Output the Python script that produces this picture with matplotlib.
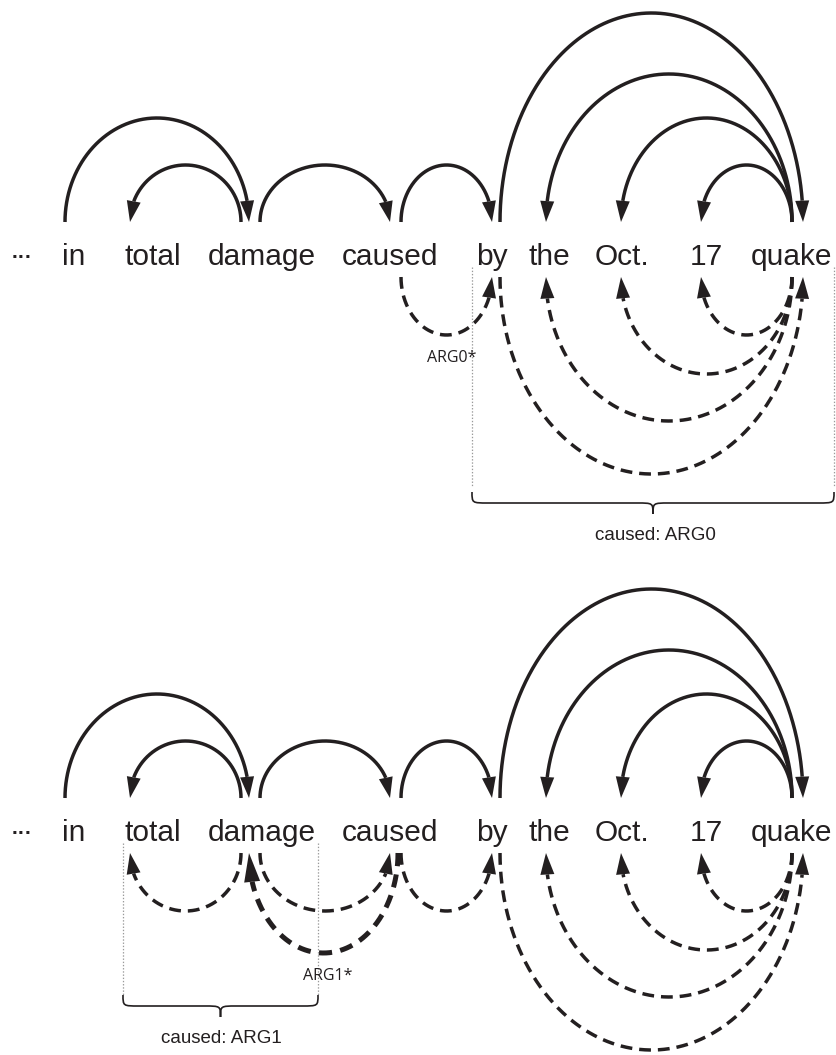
import numpy as np
import matplotlib.pyplot as plt
from matplotlib.patches import Polygon, PathPatch
from matplotlib.path import Path

plt.rcParams['lines.scale_dashes'] = False

words = ['···', 'in', 'total', 'damage', 'caused', 'by', 'the', 'Oct.', '17', 'quake']

# dependency tree drawn above the words (same in both panels)
dep_from = ['in', 'damage', 'damage', 'caused', 'by', 'quake', 'quake', 'quake']
dep_to = ['damage', 'total', 'caused', 'by', 'quake', 'the', 'Oct.', '17']
dep_level = [2, 1, 1, 1, 4, 3, 2, 1]

# paths drawn below the words
arg0_from = ['caused', 'by', 'quake', 'quake', 'quake']
arg0_to = ['by', 'quake', 'the', 'Oct.', '17']
arg0_level = [1, 4, 3, 2, 1]
arg0_bold = [False, False, False, False, False]

arg1_from = ['damage', 'damage', 'caused', 'caused', 'by', 'quake', 'quake', 'quake']
arg1_to = ['total', 'caused', 'damage', 'by', 'quake', 'the', 'Oct.', '17']
arg1_level = [1, 1, 2, 1, 4, 3, 2, 1]
arg1_bold = [False, False, True, False, False, False, False, False]

star_labels = ['ARG0*', 'ARG1*']
star_arc = [0, 2]
captions = ['caused: ARG0', 'caused: ARG1']

# ---- layout (pixels) ----
word_x = [22, 74, 153, 262, 390, 492, 549, 622, 706, 791]
in_x = [0, 65, 130, 249, 390, 492, 546, 621, 701, 803]
out_l_x = [0, 65, 130, 241, 398, 492, 546, 621, 701, 792]
out_r_x = [0, 65, 130, 260, 401, 500, 546, 621, 701, 792]
up_height = {1: 57, 2: 104, 3: 148, 4: 209}
down_depth = {1: 58, 2: 97, 3: 144, 4: 197}
panel_dy = [0, 576]
span_x = [(472, 834), (123, 318)]
span_bottom = [487, 419]      # relative to panel
brace_top = [492, 419]
brace_h = 22
caption_x = [655, 221]

INK = '#231f20'
idx = {w: i for i, w in enumerate(words)}

fig = plt.figure(figsize=(8.36, 10.55), dpi=100)
ax = fig.add_axes([0, 0, 1, 1])
ax.set_xlim(0, 836)
ax.set_ylim(1055, 0)
ax.axis('off')


def arc(x0, x1, ybase, depth, sign, lw=2.5, dashes=None, hl=21, hw=14):
    t = np.linspace(0, np.pi, 400)
    xs = x0 + (x1 - x0) * (1 - np.cos(t)) / 2
    ys = ybase + sign * depth * np.sin(t)
    seg = np.hypot(np.diff(xs), np.diff(ys))
    dist = np.concatenate([np.cumsum(seg[::-1])[::-1], [0]])
    k = np.argmin(np.abs(dist - hl))
    if dashes:
        ax.plot(xs[:k + 1], ys[:k + 1], color=INK, lw=lw, dashes=dashes,
                dash_capstyle='butt')
    else:
        ax.plot(xs[:k + 1], ys[:k + 1], color=INK, lw=lw, solid_capstyle='butt')
    tip = np.array([xs[-1], ys[-1]])
    base = np.array([xs[k], ys[k]])
    u = (tip - base) / np.linalg.norm(tip - base)
    n = np.array([-u[1], u[0]])
    ax.add_patch(Polygon([tip, base + n * hw / 2, base - n * hw / 2],
                         closed=True, facecolor=INK, edgecolor='none'))
    return xs, ys


def brace(x0, x1, ytop, h, r=16):
    xm = (x0 + x1) / 2
    ym = ytop + h / 2
    yt = ytop + h
    verts = [(x0, ytop), (x0, ym), (x0, ym), (x0 + r, ym),
             (xm - r, ym),
             (xm, ym), (xm, ym), (xm, yt),
             (xm, ym), (xm, ym), (xm + r, ym),
             (x1 - r, ym),
             (x1, ym), (x1, ym), (x1, ytop)]
    C = Path.CURVE4
    codes = [Path.MOVETO, C, C, C, Path.LINETO, C, C, C, C, C, C,
             Path.LINETO, C, C, C]
    ax.add_patch(PathPatch(Path(verts, codes), facecolor='none',
                           edgecolor=INK, lw=1.2))


def start_x(a, b):
    i, j = idx[a], idx[b]
    return out_r_x[i] if j > i else out_l_x[i]


panels = [(arg0_from, arg0_to, arg0_level, arg0_bold),
          (arg1_from, arg1_to, arg1_level, arg1_bold)]

for p, (pf, pt, pl, pb) in enumerate(panels):
    dy = panel_dy[p]
    baseline = 265 + dy
    up_base = 222 + dy
    down_base = 277 + dy

    # words
    for w, x in zip(words, word_x):
        if w == '···':
            ax.text(x, baseline - 2, w, ha='center', va='baseline',
                    fontsize=15, fontweight='bold', family='Liberation Sans',
                    color=INK)
        else:
            ax.text(x, baseline, w, ha='center', va='baseline',
                    fontsize=21.5, family='Liberation Sans', color=INK)

    # tree above
    for a, b, lv in zip(dep_from, dep_to, dep_level):
        arc(start_x(a, b), in_x[idx[b]], up_base, up_height[lv], -1)

    # paths below
    for k, (a, b, lv, bold) in enumerate(zip(pf, pt, pl, pb)):
        if bold:
            xs, ys = arc(start_x(a, b), in_x[idx[b]], down_base,
                         down_depth[lv] + 3, 1, lw=3.6, dashes=(9.5, 6),
                         hl=29, hw=16)
        else:
            xs, ys = arc(start_x(a, b), in_x[idx[b]], down_base,
                         down_depth[lv], 1, lw=2.5, dashes=(8.5, 5))
        if k == star_arc[p]:
            ax.text(xs[len(xs) // 2] + 5, ys.max() + 27, star_labels[p],
                    ha='center', va='baseline', fontsize=11.5,
                    family='Open Sans', color=INK)

    # span
    x0, x1 = span_x[p]
    for x in (x0, x1):
        ax.plot([x, x], [baseline + 2, span_bottom[p] + dy], color='#9a9a9a',
                lw=0.9, dashes=(1, 1.3))
    brace(x0, x1, brace_top[p] + dy, brace_h)
    ax.text(caption_x[p], brace_top[p] + dy + brace_h + 26, captions[p],
            ha='center', va='baseline', fontsize=13.5,
            family='Liberation Sans', color=INK)

fig.savefig('out.png', dpi=100)
